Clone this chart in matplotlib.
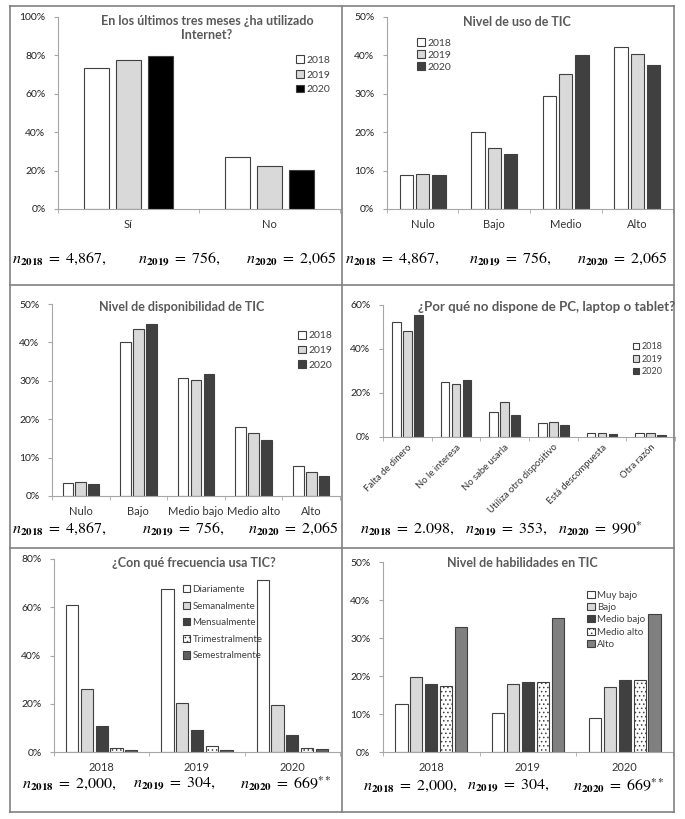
import numpy as np
import matplotlib
matplotlib.use("Agg")
import matplotlib.pyplot as plt
from matplotlib.lines import Line2D

plt.rcParams['font.family'] = ['Lato', 'DejaVu Sans']
plt.rcParams['mathtext.fontset'] = 'stix'
plt.rcParams['hatch.linewidth'] = 0.6

W, H = 685, 819

# ---- data ----
years = ['2018', '2019', '2020']

# 1. internet use in last three months
inet_cats = ['Sí', 'No']
inet_2018 = [73.2, 27.0]
inet_2019 = [77.6, 22.5]
inet_2020 = [79.5, 20.2]

# 2. level of ICT use
uso_cats = ['Nulo', 'Bajo', 'Medio', 'Alto']
uso_2018 = [8.8, 20.0, 29.5, 42.3]
uso_2019 = [9.2, 15.8, 35.1, 40.4]
uso_2020 = [8.8, 14.3, 40.0, 37.6]

# 3. ICT availability
disp_cats = ['Nulo', 'Bajo', 'Medio bajo', 'Medio alto', 'Alto']
disp_2018 = [3.3, 40.0, 30.6, 18.0, 7.8]
disp_2019 = [3.6, 43.4, 30.2, 16.3, 6.3]
disp_2020 = [3.2, 44.8, 31.7, 14.7, 5.2]

# 4. reasons for not having PC
razon_cats = ['Falta de dinero', 'No le interesa', 'No sabe usarla',
              'Utiliza otro dispositivo', 'Está descompuesta', 'Otra razón']
razon_2018 = [52.5, 25.0, 11.4, 6.4, 1.9, 1.9]
razon_2019 = [48.3, 24.0, 15.9, 7.0, 1.8, 1.9]
razon_2020 = [55.3, 25.7, 9.9, 5.4, 1.5, 1.0]

# 5. frequency of ICT use (groups = years)
freq_labels = ['Diariamente', 'Semanalmente', 'Mensualmente', 'Trimestralmente', 'Semestralmente']
freq_vals = [[60.8, 67.5, 71.2],
             [26.1, 20.5, 19.4],
             [10.6, 9.0, 6.9],
             [1.6, 2.6, 1.5],
             [1.0, 0.7, 1.1]]

# 6. ICT skills (groups = years)
hab_labels = ['Muy bajo', 'Bajo', 'Medio bajo', 'Medio alto', 'Alto']
hab_vals = [[12.7, 10.2, 9.0],
            [19.7, 18.0, 17.0],
            [18.0, 18.5, 18.9],
            [17.4, 18.5, 18.9],
            [32.8, 35.2, 36.3]]

n_row1 = [r'$n_{\mathbf{2018}}\;=\;4{,}867,$', r'$n_{\mathbf{2019}}\;=\;756,$', r'$n_{\mathbf{2020}}\;=\;2{,}065$']
n_row2b = [r'$n_{\mathbf{2018}}\;=\;2.098,$', r'$n_{\mathbf{2019}}\;=\;353,$', r'$n_{\mathbf{2020}}\;=\;990^{*}$']
n_row3 = [r'$n_{\mathbf{2018}}\;=\;2{,}000,$', r'$n_{\mathbf{2019}}\;=\;304,$', r'$n_{\mathbf{2020}}\;=\;669^{**}$']

EDGE = '#404040'
TITLE_C = '#595959'


def rect(x0, y0, x1, y1):
    return [x0 / W, 1 - y1 / H, (x1 - x0) / W, (y1 - y0) / H]


def style_axis(ax, ymax, step, ncat):
    ax.set_ylim(0, ymax)
    ax.set_xlim(-0.5, ncat - 0.5)
    ax.set_yticks(np.arange(0, ymax + 0.1, step))
    ax.set_yticklabels(['%d%%' % v for v in np.arange(0, ymax + 0.1, step)])
    for s in ['top', 'right']:
        ax.spines[s].set_visible(False)
    for s in ['left', 'bottom']:
        ax.spines[s].set_color('#a6a6a6')
        ax.spines[s].set_linewidth(0.8)
    ax.tick_params(axis='y', length=3, color='#a6a6a6', labelsize=7.5, labelcolor='#222222', pad=6)
    ax.tick_params(axis='x', which='major', length=0, labelsize=8, labelcolor='#333333', pad=7)
    ax.set_xticks(np.arange(ncat))
    ax.set_xticks(np.arange(ncat + 1) - 0.5, minor=True)
    ax.tick_params(axis='x', which='minor', length=3, color='#a6a6a6')
    ax.patch.set_alpha(0)


def grouped(ax, series, colors, labels, width, step, hatches=None):
    n = len(series)
    x = np.arange(len(series[0]))
    for i, vals in enumerate(series):
        off = (i - (n - 1) / 2) * step
        ax.bar(x + off, vals, width, color=colors[i], edgecolor=EDGE, linewidth=0.8,
               label=labels[i], hatch=None if hatches is None else hatches[i])


def legend(ax, loc, fs, spacing):
    ax.legend(loc='upper left', bbox_to_anchor=loc, frameon=False, fontsize=fs,
              handlelength=0.75, handleheight=0.75, handletextpad=0.25,
              labelspacing=spacing, borderaxespad=0, borderpad=0, labelcolor='#404040')


def ftext(x, y, s, **kw):
    fig.text(x / W, 1 - y / H, s, **kw)


fig = plt.figure(figsize=(W / 100, H / 100), dpi=100)
fig.patch.set_facecolor('white')

# panel 1
ax1 = fig.add_axes(rect(58, 17, 340, 209))
grouped(ax1, [inet_2018, inet_2019, inet_2020], ['white', '#d9d9d9', 'black'], years, 0.184, 0.227)
style_axis(ax1, 100, 20, 2)
ax1.set_xticklabels(inet_cats)
legend(ax1, (0.845, 0.80), 7.5, 0.5)
ftext(207, 28, 'En los últimos tres meses ¿ha utilizado\nInternet?', ha='center', va='center',
      fontsize=9, fontweight='bold', color=TITLE_C, linespacing=1.25)

# panel 2
ax2 = fig.add_axes(rect(387, 17, 673, 209))
grouped(ax2, [uso_2018, uso_2019, uso_2020], ['white', '#d9d9d9', '#404040'], years, 0.186, 0.228)
style_axis(ax2, 50, 10, 4)
ax2.set_xticklabels(uso_cats)
legend(ax2, (0.105, 0.89), 7.5, 0.25)
ftext(517, 22, 'Nivel de uso de TIC', ha='center', va='center',
      fontsize=9, fontweight='bold', color=TITLE_C)

# panel 3
ax3 = fig.add_axes(rect(52, 304, 340, 496))
grouped(ax3, [disp_2018, disp_2019, disp_2020], ['white', '#d9d9d9', '#404040'], years, 0.186, 0.224)
style_axis(ax3, 50, 10, 5)
ax3.set_xticklabels(disp_cats)
legend(ax3, (0.855, 0.86), 7.5, 0.5)
ftext(182, 307, 'Nivel de disponibilidad de TIC', ha='center', va='center',
      fontsize=9, fontweight='bold', color=TITLE_C)

# panel 4
ax4 = fig.add_axes(rect(383, 305, 675, 437))
grouped(ax4, [razon_2018, razon_2019, razon_2020], ['white', '#d9d9d9', '#404040'], years, 0.18, 0.225)
style_axis(ax4, 60, 20, 6)
ax4.set_xticklabels(razon_cats, rotation=45, ha='right', rotation_mode='anchor', fontsize=6.8)
ax4.tick_params(axis='x', which='major', pad=4)
legend(ax4, (0.855, 0.72), 6.5, 0.4)
ftext(418, 307, '¿Por qué no dispone de PC, laptop o tablet?', ha='left', va='center',
      fontsize=9.5, fontweight='bold', color=TITLE_C)

# panel 5
ax5 = fig.add_axes(rect(54, 559, 340, 752))
grouped(ax5, freq_vals, ['white', '#d9d9d9', '#404040', 'white', '#606060'], freq_labels,
        0.129, 0.155, hatches=[None, None, None, '....', None])
style_axis(ax5, 80, 20, 3)
ax5.set_xticklabels(years)
legend(ax5, (0.45, 0.865), 7, 0.78)
ftext(194, 563, '¿Con qué frecuencia usa TIC?', ha='center', va='center',
      fontsize=9, fontweight='bold', color=TITLE_C)

# panel 6
ax6 = fig.add_axes(rect(383, 562, 673, 752))
grouped(ax6, hab_vals, ['white', '#d9d9d9', '#404040', 'white', '#808080'], hab_labels,
        0.127, 0.155, hatches=[None, None, None, '....', None])
style_axis(ax6, 50, 10, 3)
ax6.set_xticklabels(years)
legend(ax6, (0.705, 0.85), 7, 0.35)
ftext(522, 563, 'Nivel de habilidades en TIC', ha='center', va='center',
      fontsize=9, fontweight='bold', color=TITLE_C)

# sample sizes under each panel
for xs, y, texts in [([12, 138, 246], 259, n_row1), ([345, 469, 577], 259, n_row1),
                     ([12, 142, 248], 529, n_row1), ([360, 465, 558], 529, n_row2b),
                     ([22, 133, 240], 784, n_row3), ([363, 467, 573], 786, n_row3)]:
    for x, s in zip(xs, texts):
        ftext(x, y, s, ha='left', va='center', fontsize=11.5, color='black')

# table borders
lc = '#808080'
for (x0, y0, x1, y1) in [(10, 6, 674, 6), (10, 812, 674, 812), (10, 6, 10, 812), (674, 6, 674, 812),
                         (342, 6, 342, 812), (10, 285, 674, 285), (10, 548, 674, 548)]:
    fig.add_artist(Line2D([x0 / W, x1 / W], [1 - y0 / H, 1 - y1 / H], color=lc, lw=1.2,
                          transform=fig.transFigure))

fig.savefig('out.png', dpi=100, facecolor='white')
